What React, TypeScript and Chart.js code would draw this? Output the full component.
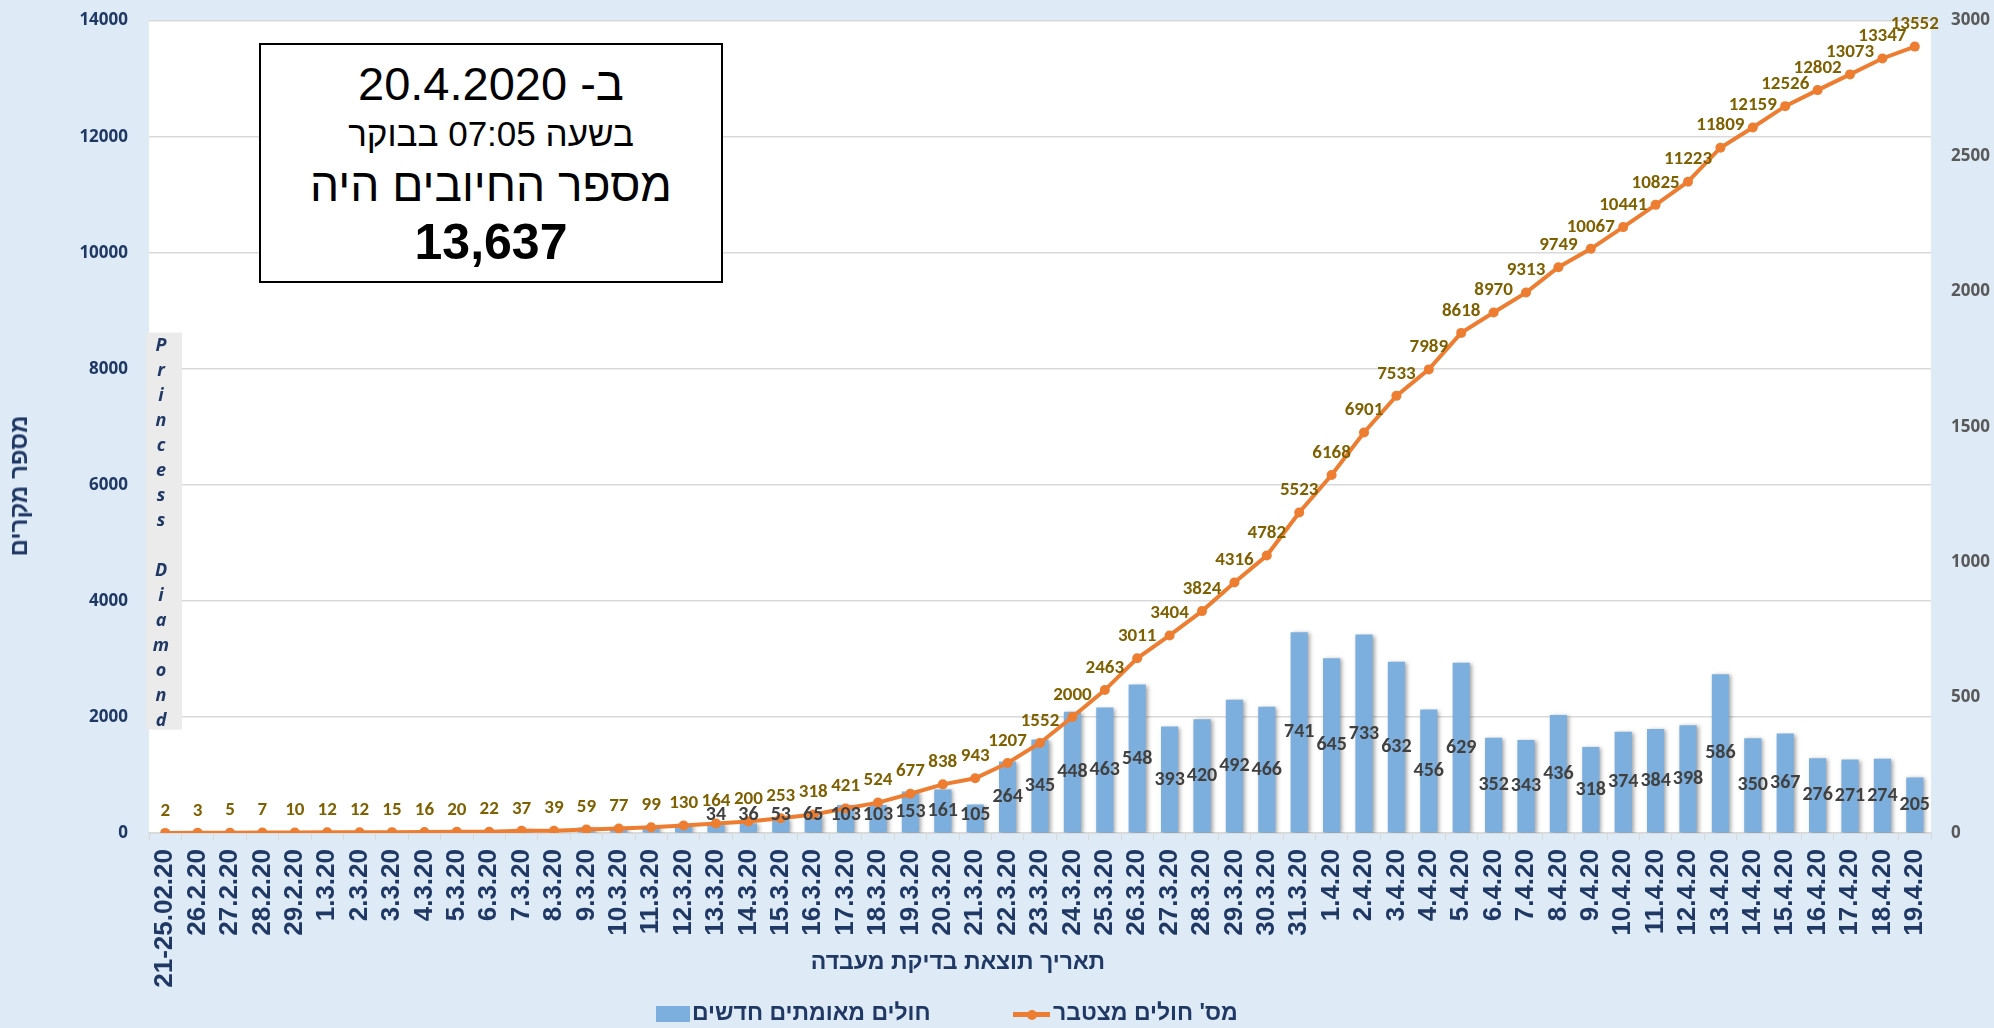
import React, { useEffect, useRef } from "react";
import { Chart, registerables } from "chart.js";

Chart.register(...registerables);

const dateLabels = [
  "21-25.02.20", "26.2.20", "27.2.20", "28.2.20", "29.2.20",
  "1.3.20", "2.3.20", "3.3.20", "4.3.20", "5.3.20", "6.3.20", "7.3.20", "8.3.20", "9.3.20", "10.3.20",
  "11.3.20", "12.3.20", "13.3.20", "14.3.20", "15.3.20", "16.3.20", "17.3.20", "18.3.20", "19.3.20", "20.3.20",
  "21.3.20", "22.3.20", "23.3.20", "24.3.20", "25.3.20", "26.3.20", "27.3.20", "28.3.20", "29.3.20", "30.3.20",
  "31.3.20", "1.4.20", "2.4.20", "3.4.20", "4.4.20", "5.4.20", "6.4.20", "7.4.20", "8.4.20", "9.4.20",
  "10.4.20", "11.4.20", "12.4.20", "13.4.20", "14.4.20", "15.4.20", "16.4.20", "17.4.20", "18.4.20", "19.4.20",
];

const cumulativeCases = [
  2, 3, 5, 7, 10, 12, 12, 15, 16, 20, 22, 37, 39, 59, 77, 99, 130, 164, 200, 253,
  318, 421, 524, 677, 838, 943, 1207, 1552, 2000, 2463, 3011, 3404, 3824, 4316, 4782, 5523, 6168, 6901, 7533, 7989,
  8618, 8970, 9313, 9749, 10067, 10441, 10825, 11223, 11809, 12159, 12526, 12802, 13073, 13347, 13552,
];

const newCases = [
  2, 1, 2, 2, 3, 2, 0, 3, 1, 4, 2, 15, 2, 20, 18, 22, 31,
  34, 36, 53, 65, 103, 103, 153, 161, 105, 264, 345, 448, 463, 548, 393, 420, 492, 466, 741,
  645, 733, 632, 456, 629, 352, 343, 436, 318, 374, 384, 398, 586, 350, 367, 276, 271, 274, 205,
];

const firstLabeledBar = 17;

const leftTicks = { min: 0, max: 14000, step: 2000 };
const rightTicks = { min: 0, max: 3000, step: 500 };

const seriesNames = { bars: "חולים מאומתים חדשים", line: "מס' חולים מצטבר" };
const princessText = "Princess Diamond";

const NAVY = "#1F3864";
const BAR = "#7CAFDD";
const ORANGE = "#ED7D31";
const NARROW = '"Carlito", "Liberation Sans Narrow", "DejaVu Sans Condensed", Arial, sans-serif';
const ARIAL = '"Liberation Sans", Arial, sans-serif';

const decor = {
  id: "decor",
  beforeDraw(chart: any) {
    const { ctx, chartArea: a } = chart;
    ctx.save();
    ctx.fillStyle = "#ffffff";
    ctx.fillRect(a.left, a.top, a.right - a.left, a.bottom - a.top);
    ctx.restore();
  },
  beforeDatasetsDraw(chart: any) {
    const { ctx, chartArea: a } = chart;
    const boxTop = a.top + 312;
    const boxH = 397;
    ctx.save();
    ctx.fillStyle = "#EBEBEB";
    ctx.fillRect(a.left - 3, boxTop, 36, boxH);
    ctx.fillStyle = NAVY;
    ctx.font = 'italic bold 18px "Open Sans", sans-serif';
    ctx.textAlign = "center";
    ctx.textBaseline = "middle";
    const chars = princessText.split("");
    chars.forEach((c, i) => {
      if (c !== " ") ctx.fillText(c, a.left + 12, boxTop + 13 + i * 25);
    });
    ctx.restore();
  },
  beforeDatasetDraw(chart: any, args: any) {
    if (args.index === 0) {
      const ctx = chart.ctx;
      ctx.save();
      ctx.shadowColor = "rgba(0,0,0,0.35)";
      ctx.shadowBlur = 4;
      ctx.shadowOffsetX = 2;
      ctx.shadowOffsetY = 1;
    }
  },
  afterDatasetDraw(chart: any, args: any) {
    if (args.index === 0) chart.ctx.restore();
  },
  afterDatasetsDraw(chart: any) {
    const { ctx } = chart;
    ctx.save();
    ctx.textAlign = "center";
    ctx.textBaseline = "middle";
    const barMeta = chart.getDatasetMeta(0);
    ctx.font = `bold 20px ${NARROW}`;
    ctx.fillStyle = "#404040";
    barMeta.data.forEach((el: any, i: number) => {
      if (i < firstLabeledBar) return;
      const cy = Math.min((el.y + el.base) / 2, el.base - 18);
      ctx.fillText(String(newCases[i]), el.x, cy);
    });
    const lineMeta = chart.getDatasetMeta(1);
    ctx.font = `bold 19px ${NARROW}`;
    ctx.fillStyle = "#7F6000";
    lineMeta.data.forEach((pt: any, i: number) => {
      ctx.fillText(String(cumulativeCases[i]), pt.x, pt.y - 22);
    });
    ctx.restore();
  },
};

const noPad = (s: any) => {
  s.paddingTop = 0;
  s.paddingBottom = 0;
};

export default function App() {
  const canvasRef = useRef<HTMLCanvasElement | null>(null);

  useEffect(() => {
    document.body.style.margin = "0";
    const canvas = canvasRef.current;
    if (!canvas) return;
    const chart = new Chart(canvas, {
      type: "bar",
      data: {
        labels: dateLabels,
        datasets: [
          {
            type: "bar",
            label: seriesNames.bars,
            data: newCases,
            backgroundColor: BAR,
            yAxisID: "y1",
            order: 2,
            barPercentage: 0.53,
            categoryPercentage: 1,
          } as any,
          {
            type: "line",
            label: seriesNames.line,
            data: cumulativeCases,
            borderColor: ORANGE,
            backgroundColor: ORANGE,
            borderWidth: 4,
            pointRadius: 5,
            pointBorderWidth: 0,
            pointBackgroundColor: ORANGE,
            tension: 0,
            yAxisID: "y",
            order: 1,
          } as any,
        ],
      },
      options: {
        animation: false,
        responsive: false,
        devicePixelRatio: 1,
        layout: { padding: { top: 20.6, left: 0, right: 0, bottom: 0 } },
        plugins: { legend: { display: false }, tooltip: { enabled: false } },
        scales: {
          x: {
            grid: { drawOnChartArea: false, drawTicks: true, tickLength: 7, color: "#D9D9D9", offset: true },
            border: { color: "#D9D9D9", width: 1.5 },
            ticks: {
              autoSkip: false,
              minRotation: 90,
              maxRotation: 90,
              padding: 9,
              color: NAVY,
              font: { family: ARIAL, weight: "bold", size: 26 },
            },
            afterFit: (s: any) => {
              s.height = 195;
              s.paddingLeft = 0;
              s.paddingRight = 0;
            },
          },
          y: {
            position: "left",
            min: leftTicks.min,
            max: leftTicks.max,
            grid: { color: "#D9D9D9", lineWidth: 1.5, drawTicks: false },
            border: { display: false },
            ticks: {
              stepSize: leftTicks.step,
              padding: 21,
              color: NAVY,
              font: { family: '"Open Sans", sans-serif', weight: "bold", size: 17 },
              callback: (v: any) => String(v),
            },
            afterFit: (s: any) => {
              s.width = 149;
              noPad(s);
            },
          },
          y1: {
            position: "right",
            min: rightTicks.min,
            max: rightTicks.max,
            grid: { drawOnChartArea: false, drawTicks: false },
            border: { display: false },
            ticks: {
              stepSize: rightTicks.step,
              padding: 20,
              color: "#595959",
              font: { family: '"Open Sans", sans-serif', weight: "bold", size: 17 },
              callback: (v: any) => String(v),
            },
            afterFit: (s: any) => {
              s.width = 63;
              noPad(s);
            },
          },
        },
      } as any,
      plugins: [decor],
    });
    return () => chart.destroy();
  }, []);

  const abs = (o: React.CSSProperties): React.CSSProperties => ({ position: "absolute", whiteSpace: "nowrap", ...o });

  return (
    <div style={{ position: "relative", width: 1994, height: 1028, background: "#DEEBF7", overflow: "hidden", fontFamily: ARIAL }}>
      <canvas ref={canvasRef} width={1994} height={1028} style={abs({ left: 0, top: 0, width: 1994, height: 1028 })} />

      {/* info box */}
      <div style={abs({ left: 259, top: 43, width: 464, height: 240, border: "2px solid #000", background: "#fff", boxSizing: "border-box" })} />
      <div dir="rtl" style={abs({ left: 259, width: 464, top: 60, fontSize: 47, lineHeight: "47px", textAlign: "center", color: "#000" })}>
        ב- 20.4.2020
      </div>
      <div dir="rtl" style={abs({ left: 259, width: 464, top: 116, fontSize: 35, lineHeight: "35px", textAlign: "center", color: "#000" })}>
        בשעה 07:05 בבוקר
      </div>
      <div dir="rtl" style={abs({ left: 259, width: 464, top: 162, fontSize: 46, lineHeight: "46px", textAlign: "center", color: "#000" })}>
        מספר החיובים היה
      </div>
      <div dir="rtl" style={abs({ left: 259, width: 464, top: 217, fontSize: 50, lineHeight: "50px", textAlign: "center", color: "#000", fontWeight: "bold" })}>
        13,637
      </div>

      {/* y axis title */}
      <div dir="rtl" style={abs({ left: 19, top: 486, transform: "translate(-50%, -50%) rotate(-90deg)", fontSize: 24, lineHeight: "24px", fontWeight: "bold", color: NAVY })}>
        מספר מקרים
      </div>

      {/* x axis title */}
      <div dir="rtl" style={abs({ left: 958, top: 950, transform: "translateX(-50%)", fontSize: 23, lineHeight: "23px", fontWeight: "bold", color: NAVY })}>
        תאריך תוצאת בדיקת מעבדה
      </div>

      {/* legend */}
      <div style={abs({ left: 656, top: 1006, width: 34, height: 16, background: BAR })} />
      <div dir="rtl" style={abs({ left: 692, top: 1001, fontSize: 23, lineHeight: "23px", fontWeight: "bold", color: NAVY })}>
        {seriesNames.bars}
      </div>
      <div style={abs({ left: 1013, top: 1012, width: 37, height: 5, background: ORANGE })} />
      <div style={abs({ left: 1027, top: 1009.5, width: 10, height: 10, borderRadius: 5, background: ORANGE })} />
      <div dir="rtl" style={abs({ left: 1053, top: 1001, fontSize: 23, lineHeight: "23px", fontWeight: "bold", color: NAVY })}>
        {seriesNames.line}
      </div>
    </div>
  );
}
